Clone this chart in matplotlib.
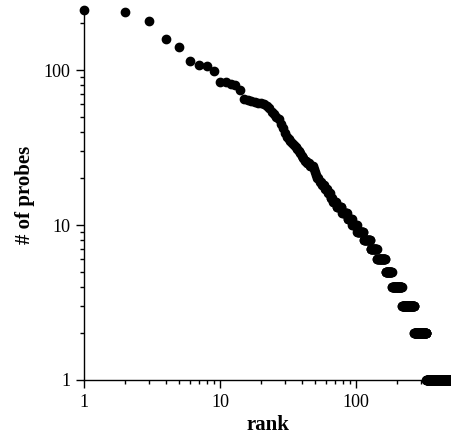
import matplotlib
matplotlib.use('Agg')
import matplotlib.pyplot as plt
import numpy as np

# probes per item: ranks 1..71 one by one
head_probes = [244, 237, 208, 158, 140, 114, 107, 106, 98, 84,
               84, 81, 80, 74, 65, 64, 63, 62, 61, 61,
               60, 59, 57, 54, 52, 50, 48, 45, 42, 39,
               37, 36, 35, 34, 33, 32, 31, 30, 29, 28,
               27, 26, 26, 25, 25, 24, 24, 24, 23, 22,
               21, 20, 20, 19, 19, 18, 18, 18, 17, 17,
               17, 16, 16, 16, 15, 15, 15, 14, 14, 14,
               14]
# the tail is flat runs of small integers: value and how many ranks hold it
tail_values = [13, 12, 11, 10, 9, 8, 7, 6, 5, 4, 3, 2, 1]
tail_counts = [7, 8, 7, 8, 12, 14, 15, 22, 19, 34, 50, 62, 171]

probes = np.array(head_probes + list(np.repeat(tail_values, tail_counts)))
rank = np.arange(1, len(probes) + 1)

plt.rcParams['font.family'] = ['Liberation Serif', 'DejaVu Serif']

fig = plt.figure(figsize=(4.51, 4.37), dpi=100)
ax = fig.add_axes([84 / 451, 57 / 437, 367 / 451, 370 / 437])

ax.plot(rank, probes, 'o', color='black', markersize=6, clip_on=False)

ax.set_xscale('log')
ax.set_yscale('log')
ax.set_xlim(1, 500)
ax.set_ylim(1, 244)

ax.spines['top'].set_visible(False)
ax.spines['right'].set_visible(False)
ax.spines['left'].set_linewidth(1.0)
ax.spines['bottom'].set_linewidth(1.0)

ax.set_xticks([1, 10, 100])
ax.set_xticklabels(['1', '10', '100'])
ax.set_yticks([1, 10, 100])
ax.set_yticklabels(['1', '10', '100'])
ax.tick_params(which='major', direction='out', length=6, width=1, labelsize=13, pad=4)
ax.tick_params(which='minor', direction='out', length=3, width=1)

ax.set_xlabel('rank', fontsize=15, fontweight='bold', labelpad=3)
ax.set_ylabel('# of probes', fontsize=15, fontweight='bold', labelpad=6)

fig.savefig('out.png', dpi=100)
